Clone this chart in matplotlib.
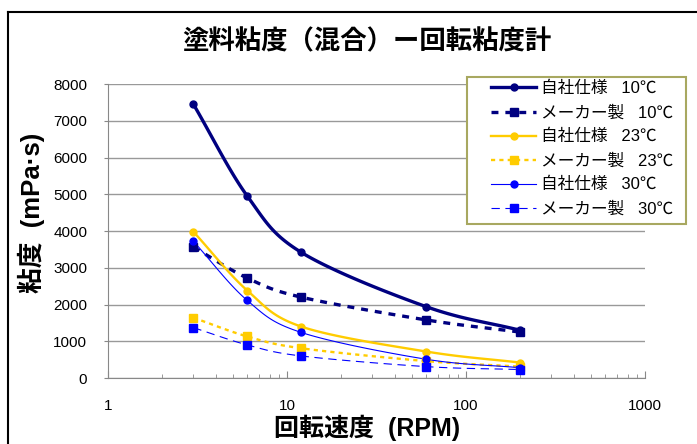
import numpy as np
import matplotlib
matplotlib.use("Agg")
import matplotlib.pyplot as plt
from matplotlib.lines import Line2D
from matplotlib.patches import Rectangle

plt.rcParams['font.family'] = ['Liberation Sans', 'Noto Sans CJK JP', 'DejaVu Sans']
plt.rcParams['lines.scale_dashes'] = False

# rotation speed (RPM) and viscosity (mPa·s)
rpm = [3, 6, 12, 60, 200]
own_10 = [7450, 4950, 3420, 1940, 1300]
maker_10 = [3560, 2720, 2200, 1580, 1250]
own_23 = [3980, 2380, 1400, 720, 420]
maker_23 = [1640, 1130, 810, 460, 310]
own_30 = [3720, 2110, 1240, 510, 280]
maker_30 = [1370, 900, 600, 310, 230]

labels = ['自社仕様   10℃', 'メーカー製   10℃',
          '自社仕様   23℃', 'メーカー製   23℃',
          '自社仕様   30℃', 'メーカー製   30℃']

title = '塗料粘度（混合）ー回転粘度計'
xlabel = '回転速度  (RPM)'
ylabel = '粘度  (mPa·s)'


def smooth(xs, ys, n=30):
    # catmull-rom through the points, x in log space
    lx = np.log10(xs)
    ys = np.asarray(ys, float)
    px = np.concatenate([[2*lx[0]-lx[1]], lx, [2*lx[-1]-lx[-2]]])
    py = np.concatenate([[2*ys[0]-ys[1]], ys, [2*ys[-1]-ys[-2]]])
    outx, outy = [], []
    t = np.linspace(0, 1, n)
    for i in range(1, len(px)-2):
        for p, out in ((px, outx), (py, outy)):
            p0, p1, p2, p3 = p[i-1], p[i], p[i+1], p[i+2]
            seg = 0.5*((2*p1) + (-p0+p2)*t + (2*p0-5*p1+4*p2-p3)*t**2
                       + (-p0+3*p1-3*p2+p3)*t**3)
            out.extend(seg)
    return 10**np.array(outx), np.array(outy)


W, H = 697, 444
fig = plt.figure(figsize=(W/100, H/100), dpi=100)
ax = fig.add_axes([108/W, 1-378/H, (645-108)/W, (378-84)/H])

navy = '#000080'
gold = '#FFCC00'
blue = '#0000FF'

styles = [
    (own_10, dict(color=navy, lw=2.4), dict(marker='o', ms=5)),
    (maker_10, dict(color=navy, lw=2.4, dashes=(5, 5)), dict(marker='s', ms=6)),
    (own_23, dict(color=gold, lw=1.7), dict(marker='o', ms=5)),
    (maker_23, dict(color=gold, lw=1.7, dashes=(3, 3)), dict(marker='s', ms=5.5)),
    (own_30, dict(color=blue, lw=0.8), dict(marker='o', ms=5)),
    (maker_30, dict(color=blue, lw=0.8, dashes=(6, 4)), dict(marker='s', ms=5.5)),
]

handles = []
for (vals, lstyle, mstyle), lab in zip(styles, labels):
    sx, sy = smooth(rpm, vals)
    ax.plot(sx, sy, zorder=3, **lstyle)
    ax.plot(rpm, vals, ls='none', color=lstyle['color'], zorder=4, **mstyle)
    handles.append(Line2D([], [], label=lab, markerfacecolor=lstyle['color'],
                          markeredgecolor=lstyle['color'], **lstyle, **mstyle))

ax.set_xscale('log')
ax.set_xlim(1, 1000)
ax.set_ylim(0, 8000)
ax.set_yticks(range(0, 8001, 1000))
ax.yaxis.grid(True, color='#999999', lw=1)
ax.set_axisbelow(True)
for s in ['top', 'right']:
    ax.spines[s].set_visible(False)
for s in ['left', 'bottom']:
    ax.spines[s].set_color('#888888')
ax.tick_params(axis='x', which='both', direction='in', colors='#888888',
               labelcolor='black', labelsize=11, pad=15)
ax.tick_params(axis='x', which='major', length=5)
ax.tick_params(axis='x', which='minor', length=3)
ax.tick_params(axis='y', direction='out', length=3, colors='#888888',
               labelcolor='black', labelsize=11, pad=12)
ax.set_xticks([1, 10, 100, 1000])
ax.set_xticklabels(['1', '10', '100', '1000'])

fig.text(367/W, 1-42/H, title, ha='center', va='center',
         fontsize=19, fontweight='bold')
fig.text(367/W, 1-428/H, xlabel, ha='center', va='center',
         fontsize=18, fontweight='bold')
fig.text(31/W, 1-213/H, ylabel, ha='center', va='center',
         fontsize=18.5, fontweight='bold', rotation=90)

# legend box drawn separately so the padding can be set freely
box = Rectangle((467/W, 1-224/H), (686-467)/W, (224-77)/H,
                transform=fig.transFigure, facecolor='white',
                edgecolor='#A8A860', lw=1.5, zorder=9, clip_on=False)
ax.add_artist(box)
leg = ax.legend(handles=handles, loc='upper left',
                bbox_to_anchor=(491/W, 1-81/H), bbox_transform=fig.transFigure,
                borderaxespad=0, borderpad=0, frameon=False, fontsize=12,
                handlelength=2.7, numpoints=1, labelspacing=0.52,
                handletextpad=0.3)
leg.set_zorder(10)

# outer frame edges
fig.add_artist(Line2D([8/W, 8/W], [0, 1-12/H], color='black', lw=1.5,
                      transform=fig.transFigure))
fig.add_artist(Line2D([8/W, 1], [1-12/H, 1-12/H], color='black', lw=1.5,
                      transform=fig.transFigure))

fig.savefig('out.png', dpi=100)
